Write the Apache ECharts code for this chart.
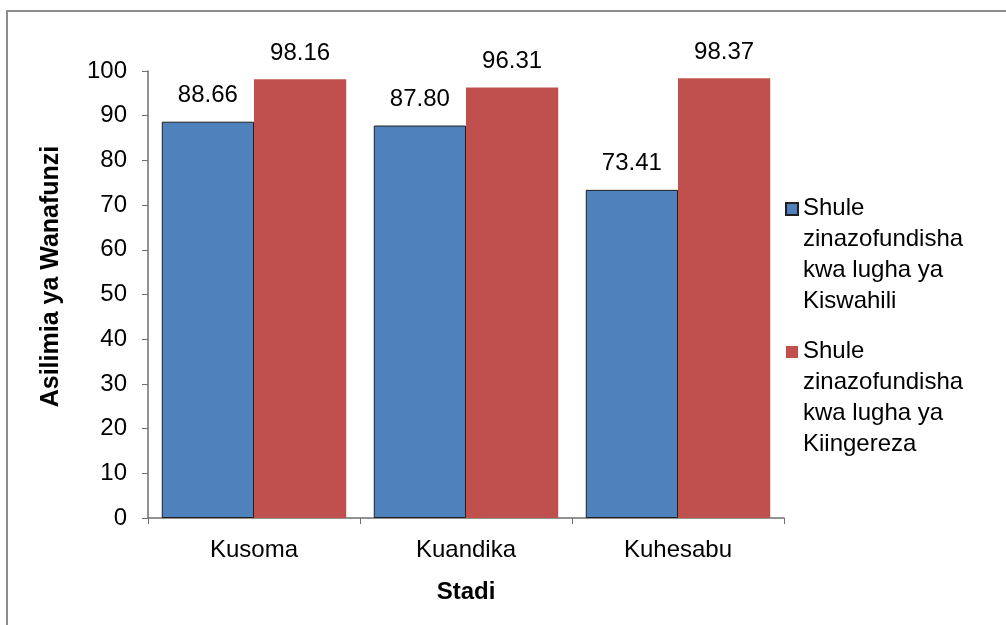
<!DOCTYPE html>
<html>
<head>
<meta charset="utf-8">
<script src="https://cdn.jsdelivr.net/npm/echarts@6/dist/echarts.min.js"></script>
<style>
  html, body { margin: 0; padding: 0; background: #fff; }
  #chart { width: 1006px; height: 625px; }
</style>
</head>
<body>
<div id="chart"></div>
<script>
const categories = ['Kusoma', 'Kuandika', 'Kuhesabu']
const kiswahili = [88.66, 87.80, 73.41]
const kiingereza = [98.16, 96.31, 98.37]
const seriesNames = [
  'Shule\nzinazofundisha\nkwa lugha ya\nKiswahili',
  'Shule\nzinazofundisha\nkwa lugha ya\nKiingereza'
]

const font = 'Liberation Sans, Arial, sans-serif'
const chart = echarts.init(document.getElementById('chart'))

// square sits on the first text line, the moveTo just stretches the box
const legendIcon = 'path://M0,0 M0,10h12v12h-12z M0,124'

const labelStyle = {
  show: true,
  position: 'top',
  distance: 14,
  fontFamily: font,
  fontSize: 24,
  color: '#000',
  formatter: p => p.value.toFixed(2)
}

chart.setOption({
  animation: false,
  graphic: [{
    type: 'rect',
    shape: { x: 7, y: 11, width: 1010, height: 630 },
    style: { fill: 'none', stroke: '#8c8c8c', lineWidth: 2 },
    silent: true
  }],
  grid: { left: 148, right: 222, top: 71, bottom: 107 },
  legend: {
    orient: 'vertical',
    left: 780,
    top: 187,
    icon: legendIcon,
    itemWidth: 12,
    itemHeight: 124,
    itemGap: 18,
    textStyle: { fontFamily: font, fontSize: 24, color: '#000', lineHeight: 31 },
    data: seriesNames
  },
  xAxis: {
    type: 'category',
    data: categories,
    name: 'Stadi',
    nameLocation: 'middle',
    nameGap: 62,
    nameTextStyle: { fontFamily: font, fontSize: 24, fontWeight: 'bold', color: '#000' },
    axisLine: { lineStyle: { color: '#6f6f6f', width: 1.5 } },
    axisTick: { show: true, length: 6, lineStyle: { color: '#6f6f6f' } },
    axisLabel: { fontFamily: font, fontSize: 24, color: '#000', margin: 20 }
  },
  yAxis: {
    type: 'value',
    min: 0,
    max: 100,
    interval: 10,
    name: 'Asilimia ya Wanafunzi',
    nameLocation: 'middle',
    nameGap: 84,
    nameTextStyle: {
      fontFamily: font, fontSize: 25, fontWeight: 'bold', color: '#000',
      padding: [0, 0, 0, 36]
    },
    axisLine: { show: true, lineStyle: { color: '#6f6f6f', width: 1.5 } },
    axisTick: { show: true, length: 6, lineStyle: { color: '#6f6f6f' } },
    splitLine: { show: false },
    axisLabel: { fontFamily: font, fontSize: 24, color: '#000', margin: 21 }
  },
  series: [{
    name: seriesNames[0],
    type: 'bar',
    data: kiswahili,
    barGap: '0%',
    barCategoryGap: '13%',
    itemStyle: { color: '#4f81bd', borderColor: '#1f1f1f', borderWidth: 1 },
    label: labelStyle
  }, {
    name: seriesNames[1],
    type: 'bar',
    data: kiingereza,
    barGap: '0%',
    barCategoryGap: '13%',
    itemStyle: { color: '#c0504d' },
    label: labelStyle
  }]
})
</script>
</body>
</html>
